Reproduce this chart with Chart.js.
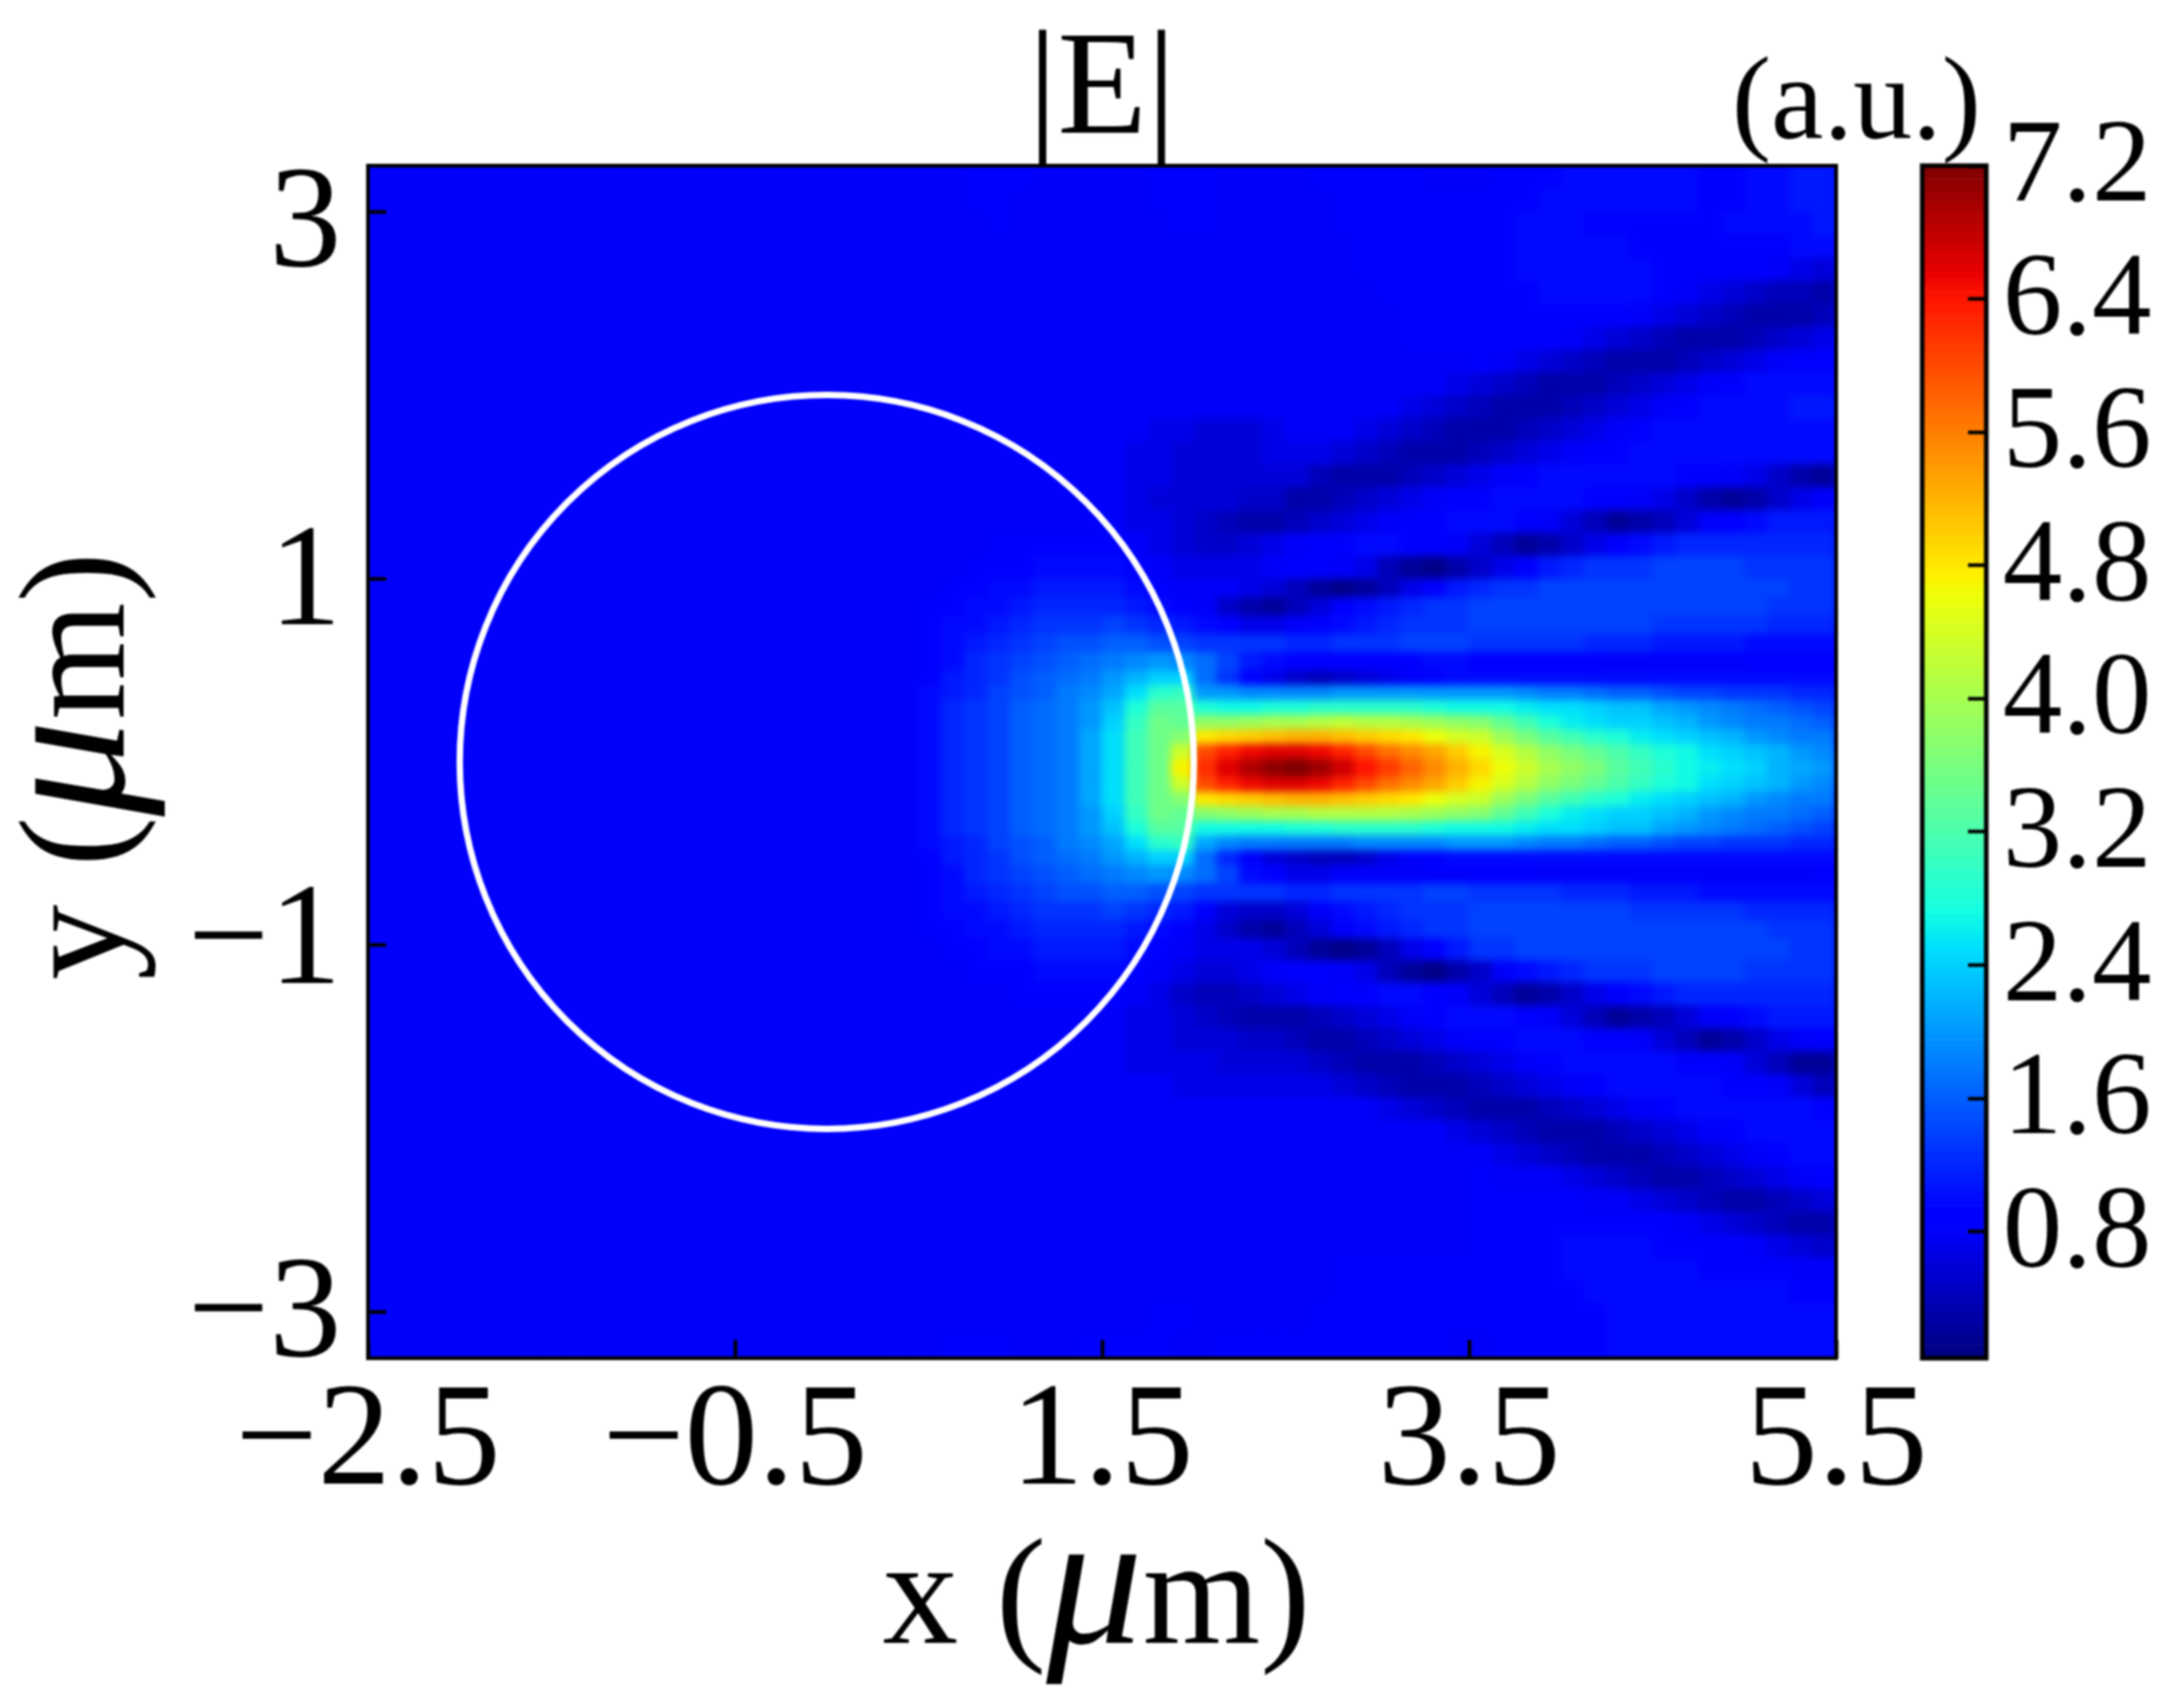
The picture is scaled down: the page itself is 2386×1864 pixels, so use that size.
<!DOCTYPE html>
<html><head><meta charset="utf-8">
<style>
html,body{margin:0;padding:0;background:#fff;width:2386px;height:1864px;overflow:hidden}
#wrap{position:absolute;left:0;top:0;width:2386px;height:1864px;filter:blur(1px)}
#heatClip{position:absolute;left:402px;top:181px;width:1604px;height:1303px;overflow:hidden;background:#0000ff}
#heatBlur{position:absolute;left:-402px;top:-181px;width:2386px;height:1864px;filter:blur(4.5px)}
canvas{position:absolute;left:0;top:0}
</style>
<script src="https://cdn.jsdelivr.net/npm/chart.js@4"></script>
</head><body><div id="wrap">
<div id="heatClip"><div id="heatBlur"><canvas id="heat" width="2386" height="1864"></canvas></div></div>
<canvas id="main" width="2386" height="1864"></canvas><canvas id="bar" width="2386" height="1864"></canvas></div>
<script>
// Field values |E| in tenths of a.u..
const xStart = -2.4375, xStep = 0.125;
const yEdges = [3.25,3.125,3,2.875,2.75,2.625,2.5,2.375,2.25,2.125,2,1.875,1.75,1.625,1.5,1.375,1.25,1.125,1,.9,.8,.7,.6,.5,.42,.34,.26,.18,.1,.02,-.08,-.16,-.24,-.32,-.4,-.48,-.56,-.66,-.76,-.86,-.96,-1.08,-1.2,-1.325,-1.45,-1.575,-1.7,-1.825,-1.95,-2.075,-2.2,-2.325,-2.45,-2.575,-2.7,-2.825,-2.95,-3.1,-3.25];
// The 24 leftmost columns are flat blue in every row
const leftColumns = [8,8,8,8,8,8,8,8,8,8,8,8,8,8,8,8,8,8,8,8,8,8,8,8];
// The other 40 columns, rows top to bottom
const heatRows = [
[8,8,9,9,9,8,8,8, 8,8,9,9,9,8,8,8, 8,9,9,9,9,9,8,8, 8,9,9,9,10,10,10,10, 10,10,9,9,10,10,11,11],
[8,8,9,9,8,8,8,8, 8,8,9,9,9,8,8,8, 8,8,9,9,9,9,9,9, 9,9,9,10,10,10,10,10, 10,10,9,9,10,10,11,11],
[8,8,8,9,8,8,8,8, 8,8,8,9,9,8,8,8, 8,8,9,9,9,9,9,9, 9,9,10,10,10,9,9,9, 9,9,9,10,10,10,10,11],
[8,8,8,8,8,8,8,8, 8,8,8,8,8,8,8,8, 8,8,8,9,9,9,9,9, 9,9,10,10,10,10,10,9, 9,9,9,9,9,9,10,10],
[8,8,8,8,8,8,8,8, 8,8,8,8,8,8,8,8, 8,8,8,9,9,9,9,9, 9,9,10,10,10,10,10,10, 9,9,9,9,9,8,7,6],
[8,8,8,8,8,8,8,8, 8,8,8,8,8,8,8,8, 8,8,8,8,9,9,9,9, 9,9,9,10,10,10,10,10, 9,8,7,6,5,4,4,3],
[8,8,8,8,8,8,8,8, 8,8,8,8,8,8,8,8, 8,8,8,8,8,9,9,9, 9,9,9,9,9,9,9,8, 7,6,5,4,3,3,3,4],
[8,8,8,8,8,8,8,8, 8,8,8,8,8,8,8,8, 8,8,8,8,8,9,9,9, 9,9,9,9,8,7,6,5, 4,3,3,3,4,5,6,7],
[8,8,8,8,8,8,8,8, 8,8,8,8,8,8,8,8, 8,8,8,8,8,8,8,8, 9,8,7,6,5,4,3,3, 3,4,5,6,7,8,9,9],
[8,8,8,8,8,8,8,8, 8,8,8,8,8,8,8,8, 8,8,8,8,8,8,8,7, 6,5,4,3,3,3,4,5, 6,7,8,9,10,10,10,10],
[8,8,8,8,8,8,8,8, 8,8,8,8,8,8,8,8, 8,8,8,8,8,7,6,5, 4,3,3,3,4,5,6,7, 8,9,10,10,10,10,11,11],
[8,8,8,8,8,8,8,8, 8,8,7,7,6,6,6,7, 8,8,8,7,6,5,4,3, 3,3,4,5,6,7,8,9, 10,10,10,10,10,10,10,10],
[8,8,8,8,8,8,8,8, 8,7,7,6,6,6,6,7, 7,7,6,5,4,3,3,3, 4,5,6,7,8,9,9,10, 10,10,10,10,10,10,10,10],
[8,8,8,8,8,8,8,8, 8,7,7,6,6,6,6,6, 6,4,3,3,3,4,5,6, 7,8,9,10,10,10,10,10, 10,9,9,8,7,5,3,2],
[8,8,8,8,8,8,8,8, 8,7,6,6,6,6,5,5, 3,3,4,5,6,7,8,9, 9,10,10,10,10,9,9,8, 7,5,3,2,3,5,7,8],
[8,8,8,8,8,8,8,8, 8,7,7,6,5,4,3,3, 4,5,6,7,8,9,9,10, 10,10,9,8,6,4,2,3, 4,6,8,9,10,11,11,11],
[8,8,8,9,9,9,9,9, 9,8,7,6,5,5,6,7, 8,9,9,10,10,9,9,8, 6,4,2,3,5,7,9,10, 11,12,12,12,12,12,12,12],
[8,8,9,9,9,10,10,10, 10,9,8,7,7,7,7,8, 9,9,8,7,4,2,1,3, 5,7,9,11,12,13,13,13, 14,14,14,14,13,13,13,13],
[8,9,9,10,10,11,11,11, 11,10,9,8,8,8,7,6, 4,2,1,2,4,7,9,11, 12,13,13,14,14,14,14,14, 14,14,14,14,14,14,13,13],
[9,9,10,10,11,12,12,12, 12,11,10,9,8,5,3,2, 4,6,9,10,11,12,13,13, 14,14,14,14,14,14,14,14, 14,14,14,14,14,13,13,13],
[9,10,10,11,12,13,13,13, 14,13,12,11,10,9,7,7, 8,9,10,11,12,13,13,13, 14,14,14,14,14,14,14,14, 13,13,13,13,13,12,12,12],
[9,10,11,12,13,14,15,15, 16,16,15,14,13,13,13,13, 12,12,13,13,13,14,14,14, 13,13,13,13,13,12,12,12, 11,11,11,11,10,10,10,10],
[9,10,12,13,14,15,16,17, 18,19,20,19,17,14,11,10, 9,9,9,9,9,9,10,10, 9,9,9,9,9,9,8,8, 8,8,8,8,9,9,9,9],
[9,11,12,13,15,16,17,18, 20,22,24,24,17,13,9,7, 5,4,5,6,7,8,9,10, 10,10,10,10,10,10,10,10, 10,10,10,10,10,10,10,10],
[10,11,12,14,15,16,18,19, 21,25,29,30,20,20,19,19, 19,19,20,20,20,20,20,20, 20,20,19,18,18,17,16,16, 15,14,14,13,13,13,12,12],
[10,12,13,14,16,17,18,20, 23,28,33,33,28,27,27,28, 28,29,29,29,29,29,28,27, 27,27,26,25,25,24,23,23, 21,20,19,18,17,16,15,14],
[10,12,13,14,16,17,18,20, 24,30,35,34,38,38,39,40, 40,41,42,41,41,40,39,38, 37,34,31,28,26,25,24,24, 23,22,20,19,18,18,17,16],
[10,12,13,14,16,17,18,21, 25,31,35,37,48,49,50,51, 52,52,51,50,49,48,46,44, 43,39,36,33,31,29,28,26, 25,24,23,22,20,19,18,18],
[10,12,13,14,16,17,18,21, 25,31,35,43,60,63,65,66, 66,65,63,60,57,55,53,50, 47,44,41,38,36,34,32,30, 28,27,25,24,23,22,20,19],
[10,12,13,14,16,17,18,21, 25,31,35,47,62,66,69,71, 72,70,67,64,61,58,55,52, 49,46,43,40,38,36,33,31, 29,27,26,25,24,22,21,20],
[10,12,13,14,16,17,18,21, 25,31,35,43,60,63,65,66, 66,65,63,60,57,55,53,50, 47,44,41,38,36,34,32,30, 28,27,25,24,23,22,20,19],
[10,12,13,14,16,17,18,21, 25,31,35,37,48,49,50,51, 52,52,51,50,49,48,46,44, 43,39,36,33,31,29,28,26, 25,24,23,22,20,19,18,18],
[10,12,13,14,16,17,18,20, 24,30,35,34,37,38,39,40, 40,41,41,41,41,40,39,38, 37,34,31,28,26,25,24,24, 23,22,20,19,18,18,17,16],
[10,12,13,14,16,17,18,20, 23,28,33,33,27,27,27,27, 28,28,29,29,29,29,28,27, 27,27,26,25,25,24,23,23, 21,20,19,18,17,16,15,14],
[10,11,12,14,15,16,18,19, 21,25,29,30,21,19,18,18, 18,18,18,19,19,19,19,20, 20,20,19,18,18,17,16,16, 15,14,14,13,13,13,12,12],
[9,11,12,13,15,16,17,18, 20,22,24,24,17,12,8,6, 5,4,4,5,7,8,9,10, 10,10,10,10,10,10,10,10, 10,10,10,10,10,10,10,10],
[9,10,12,13,14,15,16,17, 18,19,20,19,17,14,10,9, 7,7,8,8,8,8,9,9, 9,9,9,8,8,8,8,8, 8,8,8,8,8,8,8,9],
[9,10,11,12,13,14,15,15, 16,16,15,14,13,13,13,13, 12,12,13,13,13,13,14,14, 13,13,13,13,12,12,12,11, 11,11,10,10,10,10,10,10],
[9,10,10,11,12,13,13,13, 14,13,12,11,9,6,5,5, 6,8,10,11,12,13,13,13, 14,14,14,14,14,14,14,13, 13,13,13,13,12,12,12,12],
[9,9,10,10,11,12,12,12, 12,11,10,9,7,5,3,2, 4,6,8,10,11,12,13,13, 14,14,14,14,14,14,14,14, 14,14,14,14,14,13,13,13],
[8,9,9,10,10,11,11,11, 11,10,9,8,7,7,7,6, 4,2,1,2,4,7,9,11, 13,13,14,14,14,14,14,14, 14,14,14,14,14,14,13,13],
[8,8,9,9,9,10,10,10, 10,9,8,7,6,6,7,8, 9,9,8,7,4,2,1,3, 5,8,10,11,12,13,13,13, 14,14,14,14,13,13,13,13],
[8,8,8,8,9,9,9,9, 9,8,7,5,4,4,5,6, 7,8,9,9,10,10,9,8, 6,4,2,3,5,7,9,10, 11,12,12,12,12,12,12,12],
[8,8,8,8,8,8,8,8, 8,7,7,6,5,4,3,3, 3,4,5,6,7,8,9,10, 10,10,9,8,6,4,2,3, 4,6,8,9,10,11,11,11],
[8,8,8,8,8,8,8,8, 8,7,7,6,6,6,5,5, 4,3,3,4,5,6,7,8, 9,9,10,10,10,9,9,8, 6,4,2,3,5,7,8,9],
[8,8,8,8,8,8,8,8, 8,7,7,7,7,6,6,6, 6,5,4,3,3,3,4,5, 6,7,8,9,10,10,10,10, 10,9,9,8,6,4,2,2],
[8,8,8,8,8,8,8,8, 8,8,8,7,7,7,7,7, 7,7,6,5,4,3,3,3, 4,5,6,7,8,9,10,10, 10,10,10,9,9,8,6,4],
[8,8,8,8,8,8,8,8, 8,8,8,8,8,8,8,8, 8,8,8,8,7,6,5,4, 3,3,3,4,5,6,7,8, 9,10,10,10,10,10,10,9],
[8,8,8,8,8,8,8,8, 8,8,8,8,8,8,8,8, 8,8,8,8,8,8,8,7, 6,5,4,3,3,3,4,5, 6,7,8,9,10,10,10,10],
[8,8,8,8,8,8,8,8, 8,8,8,8,8,8,8,8, 8,8,8,8,8,8,8,8, 8,7,6,5,4,3,3,3, 4,5,6,7,8,9,10,10],
[8,8,8,8,8,8,8,8, 8,8,8,8,8,8,8,8, 8,8,8,8,8,8,8,8, 9,8,8,8,7,6,5,4, 3,3,4,5,6,7,8,9],
[8,8,8,8,8,8,8,8, 8,8,8,8,8,8,8,8, 8,8,8,8,8,8,8,8, 9,9,9,9,9,8,8,7, 6,5,4,3,3,4,5,6],
[8,8,8,8,8,8,8,8, 8,8,8,8,8,8,8,8, 8,8,8,8,8,8,8,8, 9,9,9,9,9,9,9,9, 9,8,7,6,5,4,3,3],
[8,8,8,8,8,8,8,8, 8,8,8,8,8,8,8,8, 8,8,8,8,8,8,8,8, 9,9,9,9,10,10,10,10, 9,9,9,9,8,7,6,5],
[8,8,8,8,8,8,8,8, 8,8,8,8,8,8,8,8, 8,8,9,9,9,9,9,9, 9,9,9,9,10,10,10,10, 10,10,9,9,9,9,8,8],
[8,8,8,8,8,8,8,8, 8,8,8,8,8,8,8,8, 8,8,9,9,9,9,9,9, 9,9,9,9,9,10,10,10, 10,10,10,10,10,10,9,9],
[8,8,8,8,8,8,8,8, 8,8,9,9,8,8,8,8, 8,9,9,9,9,9,9,9, 9,9,9,9,9,9,10,10, 10,10,10,10,10,10,10,10],
[8,9,9,9,8,8,8,9, 9,9,9,8,8,9,9,9, 9,9,9,9,9,9,9,8, 8,9,9,9,9,9,10,10, 10,10,10,10,10,10,10,10]
];
const xTicks = [-2.5,-0.5,1.5,3.5,5.5];
const yTicks = [3,1,-1,-3];
const yTickLabelShift = [17,8,0,6];
const cbarTicks = [7.2,6.4,5.6,4.8,4.0,3.2,2.4,1.6,0.8];
const valueMin = 0.04, valueMax = 7.2, xMin = -2.5, xMax = 5.5, yMin = -3.25, yMax = 3.25;
const circleCenter = [0,0], circleRadius = 2;
const titleText = '|E|', unitText = '(a.u.)';
const SERIF = '"Liberation Serif","Times New Roman",serif';

function lerpClamp(t,a,b,va,vb){ if(t<=a) return va; if(t>=b) return vb; return va+(vb-va)*(t-a)/(b-a); }
function jet(v){
  const t=(v-valueMin)/(valueMax-valueMin);
  let r = t<0.89 ? lerpClamp(t,0.35,0.66,0,1) : lerpClamp(t,0.89,1,1,0.5);
  let g = t<0.5 ? lerpClamp(t,0.125,0.375,0,1) : lerpClamp(t,0.64,0.91,1,0);
  let b = t<0.2 ? lerpClamp(t,0,0.11,0.5,1) : lerpClamp(t,0.34,0.65,1,0);
  return 'rgb('+Math.round(r*255)+','+Math.round(g*255)+','+Math.round(b*255)+')';
}
const fmt = v => String(v).replace('-','\u2212');

const heatDatasets = heatRows.map((part,ri)=>{
  const row = leftColumns.concat(part);
  return {
    data: row.map((val,ci)=>({x:xStart+ci*xStep, y:[yEdges[ri+1],yEdges[ri]]})),
    backgroundColor: row.map(val=>jet(val/10)),
    borderWidth:0, barPercentage:1, categoryPercentage:1, grouped:false
  };
});

new Chart(document.getElementById('heat'),{
  type:'bar',
  data:{datasets:heatDatasets},
  options:{
    responsive:false,animation:false,normalized:true,
    layout:{padding:{left:402,top:181,right:380,bottom:380}},
    plugins:{legend:{display:false},tooltip:{enabled:false},title:{display:false}},
    scales:{
      x:{type:'linear',min:xMin,max:xMax,offset:false,display:false},
      y:{type:'linear',min:yMin,max:yMax,display:false}
    }
  }
});

function textRuns(ctx,runs,cx,baseY,rot){
  ctx.save();
  ctx.translate(cx,baseY); ctx.rotate(rot);
  let total=0;
  runs.forEach(r=>{ctx.font=r.font; total+=ctx.measureText(r.t).width;});
  let x=-total/2;
  ctx.textAlign='left'; ctx.textBaseline='alphabetic'; ctx.fillStyle='#000';
  runs.forEach(r=>{ctx.font=r.font; ctx.fillText(r.t,x,0); x+=ctx.measureText(r.t).width;});
  ctx.restore();
}

const overlay = {
  id:'overlay',
  beforeDraw(chart){
    const items = chart.scales.y.getLabelItems(chart.chartArea);
    items.forEach((it,i)=>{ it.options.translation[1]+=yTickLabelShift[i]; });
  },
  afterDatasetsDraw(chart){
    const {ctx,chartArea:a,scales:{x,y}}=chart;
    ctx.save();
    ctx.beginPath();ctx.rect(a.left,a.top,a.right-a.left,a.bottom-a.top);ctx.clip();
    ctx.strokeStyle='#fff';ctx.lineWidth=7;
    const cx=x.getPixelForValue(circleCenter[0]), cy=y.getPixelForValue(circleCenter[1]);
    const rx=x.getPixelForValue(circleCenter[0]+circleRadius)-cx, ry=cy-y.getPixelForValue(circleCenter[1]+circleRadius);
    ctx.beginPath();ctx.ellipse(cx,cy,rx,ry,0,0,Math.PI*2);ctx.stroke();
    ctx.restore();
    ctx.save();ctx.strokeStyle='#000';ctx.lineWidth=4;
    ctx.strokeRect(a.left,a.top,a.right-a.left,a.bottom-a.top);ctx.restore();
  },
  afterDraw(chart){
    const ctx=chart.ctx;
    const base='165px '+SERIF, mu='italic 210px '+SERIF;
    textRuns(ctx,[{t:'x (',font:base},{t:'\u03bc',font:mu},{t:'m)',font:base}],1198,1795,0);
    textRuns(ctx,[{t:'y (',font:base},{t:'\u03bc',font:mu},{t:'m)',font:base}],135,837,-Math.PI/2);
    ctx.save();ctx.font='129px '+SERIF;ctx.fillStyle='#000';ctx.textAlign='center';ctx.textBaseline='alphabetic';
    ctx.fillText(unitText,2028,151);ctx.restore();
  }
};

new Chart(document.getElementById('main'),{
  type:'scatter',
  data:{datasets:[]},
  options:{
    responsive:false,animation:false,
    layout:{padding:{left:0,top:0,right:380,bottom:0}},
    plugins:{legend:{display:false},tooltip:{enabled:false},
      title:{display:true,text:titleText,fullSize:false,color:'#000',font:{family:SERIF,size:160,lineHeight:1,weight:'normal'},padding:{top:23,bottom:-2}}},
    scales:{
      x:{type:'linear',min:xMin,max:xMax,offset:false,
        afterFit(s){s.height=380;},
        afterBuildTicks(s){s.ticks=xTicks.map(v=>({value:v}));},
        grid:{offset:false,drawOnChartArea:false,tickLength:-20,tickWidth:4,tickColor:'#000',z:1},
        border:{display:false},
        ticks:{autoSkip:false,maxRotation:0,minRotation:0,padding:19,color:'#000',font:{family:SERIF,size:160},callback:fmt}},
      y:{type:'linear',min:yMin,max:yMax,
        afterFit(s){s.width=402;},
        afterBuildTicks(s){s.ticks=yTicks.map(v=>({value:v}));},
        grid:{drawOnChartArea:false,tickLength:-20,tickWidth:4,tickColor:'#000',z:1},
        border:{display:false},
        ticks:{autoSkip:false,padding:49,color:'#000',font:{family:SERIF,size:158},callback:fmt}}
    }
  },
  plugins:[overlay]
});

// Colour bar: one thin floating bar per colour level
const cbarLevels=[];
for(let i=0;i<180;i++){cbarLevels.push(valueMin+(valueMax-valueMin)*i/180);}
const cbarStep=(valueMax-valueMin)/180;
const cbarFrame={id:'cbarFrame',afterDatasetsDraw(chart){
  const {ctx,chartArea:a}=chart;ctx.save();ctx.strokeStyle='#000';ctx.lineWidth=5;
  ctx.strokeRect(a.left,a.top,a.right-a.left,a.bottom-a.top);ctx.restore();}};
new Chart(document.getElementById('bar'),{
  type:'bar',
  data:{labels:['c'],datasets:cbarLevels.map(v=>({
    data:[[v,v+cbarStep]],backgroundColor:jet(v+cbarStep/2),borderWidth:0,barPercentage:1,categoryPercentage:1,grouped:false}))},
  options:{
    responsive:false,animation:false,
    layout:{padding:{left:2100,top:181,right:0,bottom:380}},
    plugins:{legend:{display:false},tooltip:{enabled:false}},
    scales:{
      x:{display:false},
      y:{type:'linear',position:'right',min:valueMin,max:valueMax,
        afterFit(s){s.width=216;},
        afterBuildTicks(s){s.ticks=cbarTicks.map(v=>({value:v}));},
        grid:{drawOnChartArea:false,tickLength:-20,tickWidth:4,tickColor:'#000',z:1},
        border:{display:false},
        ticks:{autoSkip:false,padding:38,labelOffset:4,color:'#000',font:{family:SERIF,size:130},callback:v=>v.toFixed(1)}}
    }
  },
  plugins:[cbarFrame]
});
</script></body></html>
